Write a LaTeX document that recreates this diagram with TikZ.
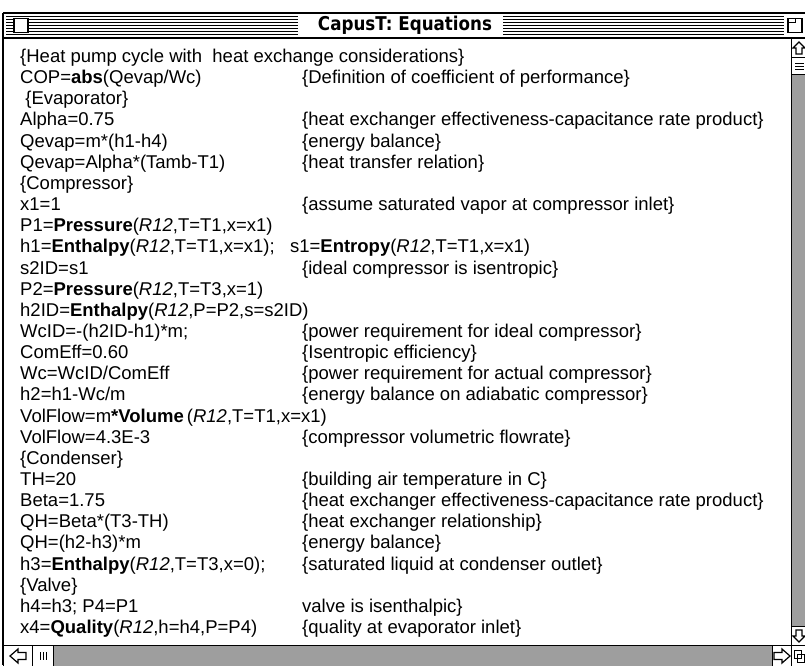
\documentclass[tikz,border=0pt]{standalone}
\usepackage{fontspec}
\usepackage{graphicx}
\setmainfont{Liberation Sans}
\newfontfamily\titlefont{DejaVu Sans}
\usetikzlibrary{positioning, calc}
\newcommand{\eqfont}{\fontsize{18.5}{20}\selectfont}
\newcommand{\fn}[1]{\textbf{#1}}
\newcommand{\refr}{\textit{R12}}
\def\rowgap{21.15pt}

\begin{document}
\begin{tikzpicture}[
    x=1pt, y=-1pt,
    every node/.style={font=\eqfont},
    eqn/.style={anchor=base west, inner sep=0pt, text=black},
    cmt/.style={eqn},
    win/.style={draw=black, line width=1.3pt},
    barbox/.style={draw=black, line width=1pt, fill=white, inner sep=0pt, anchor=north west},
    track/.style={draw=black, line width=1pt, fill=black!38},
    glyph/.style={draw=black, line width=1.2pt, line join=miter}
]
    \useasboundingbox (0,0) rectangle (805,665);

    % window frame and title bar
    \draw[win] (3,13) -- (805,13);
    \draw[win] (3,13) -- (3,665);
    \draw[win] (3,38) -- (805,38);
    \foreach \yy in {16.5,19.5,...,35} {
        \draw[line width=1.3pt] (6,\yy) -- (298,\yy);
        \draw[line width=1.3pt] (503,\yy) -- (784,\yy);
    }
    \node[draw, line width=1.2pt, fill=white, minimum size=14pt, inner sep=0pt] (closebox) at (21,25.5) {};
    \node[draw, line width=1.2pt, fill=white, minimum size=14pt, inner sep=0pt] (zoombox) at (795,25.5) {};
    \draw[line width=1pt] (zoombox.north west) ++(0,5) -| ++(8,-5);
    \node[inner sep=0pt] (title) at (405,25.5)
        {\scalebox{0.88}[1]{\titlefont\fontsize{19}{20}\selectfont\bfseries CapusT: Equations}};

    % vertical scroll bar
    \draw[track] (791,38) rectangle (806,645);
    \node[barbox, minimum width=15pt, minimum height=19pt] (upbox) at (791,38) {};
    \node[barbox, minimum width=15pt, minimum height=17pt] (vthumb) at (791,57) {};
    \node[barbox, minimum width=15pt, minimum height=19pt] (downbox) at (791,626) {};
    \foreach \dy in {-3,0,3}
        \draw[line width=1pt] ([shift={(-4,\dy)}]vthumb.center) -- ++(9,0);
    \begin{scope}[shift={(upbox.center)}]
        \draw[glyph] (0,-6) -- (6,0) -- (3,0) -- (3,6) -- (-3,6) -- (-3,0) -- (-6,0) -- cycle;
    \end{scope}
    \begin{scope}[shift={(downbox.center)}]
        \draw[glyph] (0,6) -- (6,0) -- (3,0) -- (3,-6) -- (-3,-6) -- (-3,0) -- (-6,0) -- cycle;
    \end{scope}

    % horizontal scroll bar
    \draw[track] (3,645) rectangle (791,666);
    \node[barbox, minimum width=29pt, minimum height=21pt] (leftbox) at (3,645) {};
    \node[barbox, minimum width=21pt, minimum height=21pt] (hthumb) at (32,645) {};
    \node[barbox, minimum width=19pt, minimum height=21pt] (rightbox) at (772,645) {};
    \node[barbox, minimum width=15pt, minimum height=21pt] (sizebox) at (791,645) {};
    \foreach \dx in {-3,0,3}
        \draw[line width=1pt] ([shift={(\dx,-4)}]hthumb.center) -- ++(0,8);
    \begin{scope}[shift={(leftbox.center)}]
        \draw[glyph] (-8,0) -- (0,-7) -- (0,-3.5) -- (8,-3.5) -- (8,3.5) -- (0,3.5) -- (0,7) -- cycle;
    \end{scope}
    \begin{scope}[shift={(rightbox.center)}]
        \draw[glyph] (8,0) -- (0,-7) -- (0,-3.5) -- (-8,-3.5) -- (-8,3.5) -- (0,3.5) -- (0,7) -- cycle;
    \end{scope}
    \draw[line width=1pt] ([shift={(-5,-6)}]sizebox.center) rectangle ++(7,8);
    \draw[line width=1pt] ([shift={(-2,-2)}]sizebox.center) rectangle ++(7,8);

    % equations, one row per line
    \coordinate (cmtcol) at (302,0);
    \node[eqn] (l1) at (20,62.5) {\{Heat pump cycle with\ \ heat exchange considerations\}};
    \node[eqn] (l2) at ([yshift=-\rowgap]l1.base west) {COP=\fn{abs}(Qevap/Wc)};
    \node[eqn] (l3) at ([yshift=-\rowgap]l2.base west) {\ \{Evaporator\}};
    \node[eqn] (l4) at ([yshift=-\rowgap]l3.base west) {Alpha=0.75};
    \node[eqn] (l5) at ([yshift=-\rowgap]l4.base west) {Qevap=m*(h1-h4)};
    \node[eqn] (l6) at ([yshift=-\rowgap]l5.base west) {Qevap=Alpha*(Tamb-T1)};
    \node[eqn] (l7) at ([yshift=-\rowgap]l6.base west) {\{Compressor\}};
    \node[eqn] (l8) at ([yshift=-\rowgap]l7.base west) {x1=1};
    \node[eqn] (l9) at ([yshift=-\rowgap]l8.base west) {P1=\fn{Pressure}(\refr,T=T1,x=x1)};
    \node[eqn] (l10) at ([yshift=-\rowgap]l9.base west)
        {h1=\fn{Enthalpy}(\refr,T=T1,x=x1);\ \ \ s1=\fn{Entropy}(\refr,T=T1,x=x1)};
    \node[eqn] (l11) at ([yshift=-\rowgap]l10.base west) {s2ID=s1};
    \node[eqn] (l12) at ([yshift=-\rowgap]l11.base west) {P2=\fn{Pressure}(\refr,T=T3,x=1)};
    \node[eqn] (l13) at ([yshift=-\rowgap]l12.base west) {h2ID=\fn{Enthalpy}(\refr,P=P2,s=s2ID)};
    \node[eqn] (l14) at ([yshift=-\rowgap]l13.base west) {WcID=-(h2ID-h1)*m;};
    \node[eqn] (l15) at ([yshift=-\rowgap]l14.base west) {ComEff=0.60};
    \node[eqn] (l16) at ([yshift=-\rowgap]l15.base west) {Wc=WcID/ComEff};
    \node[eqn] (l17) at ([yshift=-\rowgap]l16.base west) {h2=h1-Wc/m};
    \node[eqn] (l18) at ([yshift=-\rowgap]l17.base west) {VolFlow=m\fn{*Volume}\,(\refr,T=T1,x=x1)};
    \node[eqn] (l19) at ([yshift=-\rowgap]l18.base west) {VolFlow=4.3E-3};
    \node[eqn] (l20) at ([yshift=-\rowgap]l19.base west) {\{Condenser\}};
    \node[eqn] (l21) at ([yshift=-\rowgap]l20.base west) {TH=20};
    \node[eqn] (l22) at ([yshift=-\rowgap]l21.base west) {Beta=1.75};
    \node[eqn] (l23) at ([yshift=-\rowgap]l22.base west) {QH=Beta*(T3-TH)};
    \node[eqn] (l24) at ([yshift=-\rowgap]l23.base west) {QH=(h2-h3)*m};
    \node[eqn] (l25) at ([yshift=-\rowgap]l24.base west) {h3=\fn{Enthalpy}(\refr,T=T3,x=0);};
    \node[eqn] (l26) at ([yshift=-\rowgap]l25.base west) {\{Valve\}};
    \node[eqn] (l27) at ([yshift=-\rowgap]l26.base west) {h4=h3; P4=P1};
    \node[eqn] (l28) at ([yshift=-\rowgap]l27.base west) {x4=\fn{Quality}(\refr,h=h4,P=P4)};

    % comments in the second column
    \node[cmt] (c2) at (l2.base -| cmtcol) {\{Definition of coefficient of performance\}};
    \node[cmt] (c4) at (l4.base -| cmtcol) {\{heat exchanger effectiveness-capacitance rate product\}};
    \node[cmt] (c5) at (l5.base -| cmtcol) {\{energy balance\}};
    \node[cmt] (c6) at (l6.base -| cmtcol) {\{heat transfer relation\}};
    \node[cmt] (c8) at (l8.base -| cmtcol) {\{assume saturated vapor at compressor inlet\}};
    \node[cmt] (c11) at (l11.base -| cmtcol) {\{ideal compressor is isentropic\}};
    \node[cmt] (c14) at (l14.base -| cmtcol) {\{power requirement for ideal compressor\}};
    \node[cmt] (c15) at (l15.base -| cmtcol) {\{Isentropic efficiency\}};
    \node[cmt] (c16) at (l16.base -| cmtcol) {\{power requirement for actual compressor\}};
    \node[cmt] (c17) at (l17.base -| cmtcol) {\{energy balance on adiabatic compressor\}};
    \node[cmt] (c19) at (l19.base -| cmtcol) {\{compressor volumetric flowrate\}};
    \node[cmt] (c21) at (l21.base -| cmtcol) {\{building air temperature in C\}};
    \node[cmt] (c22) at (l22.base -| cmtcol) {\{heat exchanger effectiveness-capacitance rate product\}};
    \node[cmt] (c23) at (l23.base -| cmtcol) {\{heat exchanger relationship\}};
    \node[cmt] (c24) at (l24.base -| cmtcol) {\{energy balance\}};
    \node[cmt] (c25) at (l25.base -| cmtcol) {\{saturated liquid at condenser outlet\}};
    \node[cmt] (c27) at (l27.base -| cmtcol) {valve is isenthalpic\}};
    \node[cmt] (c28) at (l28.base -| cmtcol) {\{quality at evaporator inlet\}};
\end{tikzpicture}
\end{document}
